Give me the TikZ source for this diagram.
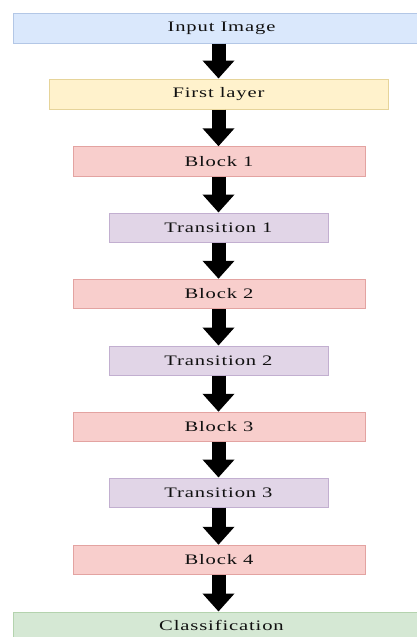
\documentclass[tikz,border=0pt]{standalone}
\usepackage{fontspec}
\newfontfamily\labfont[FakeStretch=1.42,LetterSpace=6]{Liberation Serif}
\usetikzlibrary{arrows.meta}
\definecolor{inFill}{HTML}{DAE8FC}\definecolor{inDraw}{HTML}{B3C7E6}
\definecolor{flFill}{HTML}{FFF2CC}\definecolor{flDraw}{HTML}{E6D49A}
\definecolor{bkFill}{HTML}{F8CECC}\definecolor{bkDraw}{HTML}{E3A3A1}
\definecolor{trFill}{HTML}{E1D5E7}\definecolor{trDraw}{HTML}{C2AFD0}
\definecolor{clFill}{HTML}{D5E8D4}\definecolor{clDraw}{HTML}{B4D3AE}
\definecolor{txt}{HTML}{111111}
\begin{document}
\begin{tikzpicture}[x=1pt,y=-1pt,
  box/.style={rectangle,line width=1pt,inner sep=0pt,text=txt,
    font=\labfont\fontsize{14.5}{17}\selectfont},
  inbox/.style={box,fill=inFill,draw=inDraw,minimum width=417pt,minimum height=30pt},
  flbox/.style={box,fill=flFill,draw=flDraw,minimum width=339pt,minimum height=30pt},
  bkbox/.style={box,fill=bkFill,draw=bkDraw,minimum width=292pt,minimum height=29.5pt},
  trbox/.style={box,fill=trFill,draw=trDraw,minimum width=219pt,minimum height=29pt},
  clbox/.style={box,fill=clFill,draw=clDraw,minimum width=417pt,minimum height=27pt},
  arr/.style={line width=14pt,black,-{Triangle[length=18pt,width=31pt]}}]
\useasboundingbox (0,0) rectangle (417,637);
\coordinate (ax) at (218.5,0);
\node[inbox] (in) at (221.5,28) {Input Image};
\node[flbox] (fl) at (218.5,94) {First layer};
\node[bkbox] (b1) at (219,161.5) {Block 1};
\node[trbox] (t1) at (218.5,227.5) {Transition 1};
\node[bkbox] (b2) at (219,294) {Block 2};
\node[trbox] (t2) at (218.5,360.5) {Transition 2};
\node[bkbox] (b3) at (219,427) {Block 3};
\node[trbox] (t3) at (218.5,492.5) {Transition 3};
\node[bkbox] (b4) at (219,560) {Block 4};
\node[clbox] (cl) at (221.5,625.5) {Classification};
\draw[arr] (in.south -| ax) -- (fl.north -| ax);
\draw[arr] (fl.south -| ax) -- (b1.north -| ax);
\draw[arr] (b1.south -| ax) -- (t1.north -| ax);
\draw[arr] (t1.south -| ax) -- (b2.north -| ax);
\draw[arr] (b2.south -| ax) -- (t2.north -| ax);
\draw[arr] (t2.south -| ax) -- (b3.north -| ax);
\draw[arr] (b3.south -| ax) -- (t3.north -| ax);
\draw[arr] (t3.south -| ax) -- (b4.north -| ax);
\draw[arr] (b4.south -| ax) -- (cl.north -| ax);
\end{tikzpicture}
\end{document}
